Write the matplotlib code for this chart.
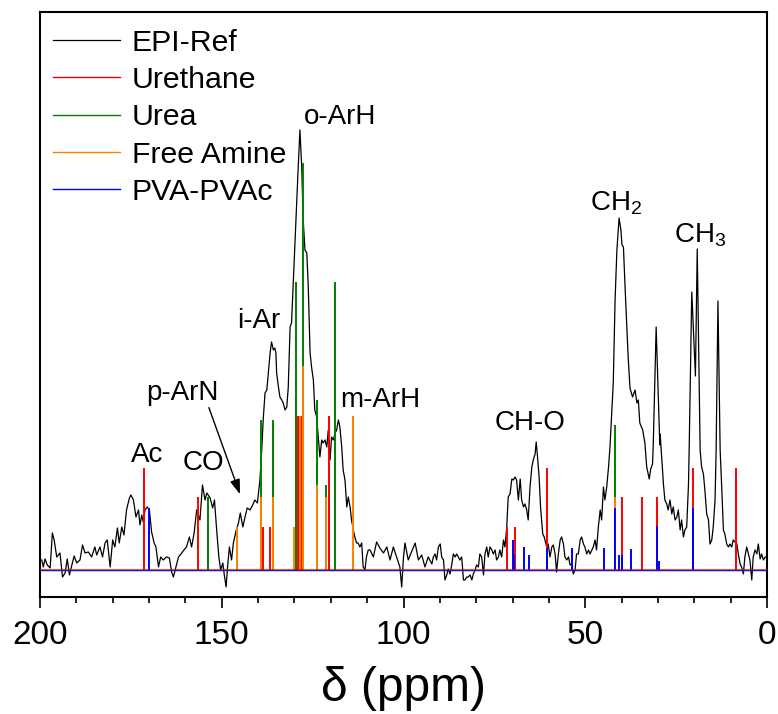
#!/usr/bin/env python3
from pathlib import Path
import matplotlib
matplotlib.use("Agg")
import matplotlib.pyplot as plt

OUTPATH = Path("out.png")

plt.rcParams['font.family'] = ['Liberation Sans', 'DejaVu Sans']
plt.rcParams['mathtext.default'] = 'regular'

# EPI-Ref spectrum (ppm, arbitrary intensity)
ref_ppm = [
    199.5, 199.1, 198.6, 198.0, 197.2, 196.6, 196.1, 195.4, 194.5, 193.8, 193.1, 192.5, 191.9, 191.3,
    190.6, 189.9, 189.0, 188.3, 187.6, 186.7, 185.8, 184.9, 184.4, 183.5, 182.8, 182.1, 181.5, 180.7,
    180.0, 179.4, 178.7, 178.2, 177.5, 176.9, 176.2, 175.4, 175.0, 174.3, 173.6, 172.9, 172.5, 172.0,
    171.6, 171.1, 170.5, 169.9, 169.3, 168.6, 168.1, 167.4, 166.8, 166.1, 165.2, 164.4, 163.8, 163.3,
    162.6, 161.9, 161.0, 160.4, 159.7, 158.9, 158.3, 157.6, 156.9, 156.0, 155.3, 154.6, 154.1, 153.2,
    152.5, 152.0, 151.4, 150.8, 150.3, 149.7, 149.3, 148.8, 148.4, 147.9, 147.3, 146.8, 146.0, 145.4,
    144.9, 144.2, 143.6, 143.0, 142.2, 141.5, 140.9, 140.2, 139.5,
    139.0, 138.6, 138.1, 137.6, 137.2, 136.7, 136.3, 135.8, 135.4, 135.1, 134.9, 134.4, 134.0, 133.5,
    133.1, 132.6, 132.1, 131.7, 131.2, 130.8, 130.3, 129.9, 129.4, 129.0, 128.5, 128.0, 127.6, 127.1,
    126.6, 126.2, 125.7, 125.3, 124.8, 124.4, 123.9, 123.4, 123.0, 122.5, 122.1, 121.6, 121.1, 120.7,
    120.2, 119.8, 119.3, 118.8, 118.4, 117.9, 117.5, 117.0, 116.6, 116.1, 115.6, 115.2, 114.7, 114.3,
    113.8, 113.4, 112.9, 112.5, 112.0, 111.5, 111.1, 110.6, 110.2, 109.7, 109.2,
    108.3, 107.4, 106.5, 105.5, 104.6, 103.7, 102.8, 101.9, 101.0, 100.5, 100.0, 99.6, 98.7, 97.8,
    96.8, 95.9, 95.0, 94.1, 93.2,
    92.2, 91.8, 91.3, 90.9, 90.4, 89.9, 89.5, 89.0, 88.6, 88.1, 87.7, 87.2, 86.7, 86.3, 85.8, 85.4,
    84.9, 84.5, 84.0, 83.5, 83.1, 82.6, 82.2, 81.7, 81.2, 80.8, 80.3, 79.9, 79.4, 79.0, 78.5, 78.0,
    77.6, 77.1, 76.7, 76.2, 75.7, 75.3, 74.8, 74.4, 73.9, 73.5, 73.0, 72.5, 72.1, 71.6, 71.2, 70.7,
    70.2, 69.8, 69.3, 68.9, 68.4, 67.9, 67.5, 67.0, 66.6, 66.1, 65.7, 65.2, 64.7, 64.3, 63.8, 63.5,
    63.2, 62.7, 62.3, 61.7, 61.3, 60.6, 60.2, 59.7, 59.2, 58.8, 58.3, 57.9, 57.4, 56.9, 56.5, 56.0,
    55.6, 55.1, 54.6, 54.2, 53.7, 53.3, 52.8, 52.4, 51.9, 51.4, 51.0, 50.5, 50.1, 49.6, 49.1, 48.7,
    48.2, 47.8, 47.3, 46.9, 46.4, 45.9, 45.5, 45.0, 44.6, 44.1, 43.6, 43.2,
    42.3, 41.8, 41.3, 40.7, 40.2, 39.9, 39.5, 39.1, 38.6, 38.2, 37.7, 37.0, 36.3, 35.8, 35.4, 35.0,
    34.2, 33.6, 33.1, 32.4, 32.0, 31.5, 31.3, 30.5, 29.5, 29.4, 28.5, 28.1, 27.6, 27.2, 26.7, 26.2,
    25.8, 25.3, 24.8, 24.4, 23.9, 23.5, 23.0, 22.6, 22.1, 21.6, 21.4, 20.7, 19.7, 19.2, 18.4, 18.0,
    17.5, 17.1, 16.6, 16.1, 15.7, 15.2, 14.8, 14.3, 14.0, 13.5, 12.9, 12.5, 12.0, 11.6, 11.1, 10.6,
    10.2, 9.7, 9.3, 8.8, 8.3, 7.9, 7.4, 7.0, 6.5, 6.1, 5.6, 5.1, 4.7, 4.2, 3.8, 3.3, 2.8, 2.4, 1.9,
    1.5, 1.0, 0.5, 0.1,
]
ref_int = [
    10, 3, 11, 5, 2, 37, 30, 13, 17, -7, -3, 11, -5, 4,
    14, 7, 10, 25, 17, 18, 13, 23, 15, 23, 13, 27, 30, 3,
    30, 23, 42, 27, 43, 35, 60, 72, 75, 70, 53, 60, 45, 55,
    48, 60, 63, 60, 38, 27, 23, 3, 13, 10, 13, 12, -2, -7,
    3, 13, 17, 20, 23, 33, 23, 37, 60, 50, 85, 70, 77, 72,
    62, 70, 40, 13, 0, 7, -5, -17, 3, 23, 10, 27, 40, 47,
    57, 43, 53, 62, 60, 65, 70, 67, 90,
    120, 150, 177, 180, 197, 217, 228, 220, 222, 217, 197, 183, 173, 170,
    167, 160, 163, 183, 243, 247, 290, 323, 367, 400, 440, 403, 350, 320,
    317, 283, 217, 203, 190, 160, 153, 130, 113, 130, 127, 130, 123, 140,
    110, 133, 130, 137, 140, 150, 143, 123, 100, 90, 63, 73, 63, 50,
    40, 33, 27, 27, 23, 27, 3, 0, 13, 20, 20,
    13, 28, 22, 17, 23, 10, 23, 13, 3, -17, 13, 27, 10, 18,
    27, 10, 15, 3, 13,
    6, 13, 16, 10, 23, 26, 13, 10, -10, -5, 1, -4, 6, 16, 13, 16,
    13, 10, 13, -10, -10, -7, -7, -5, -10, -4, 0, 5, 3, 16, 13, -5,
    16, 23, 13, 23, 20, 16, 20, 10, 13, 20, 13, 30, 23, 43, 73, 76,
    91, 90, 93, 90, 70, 91, 70, 63, 66, 60, 50, 83, 103, 110, 116, 128,
    116, 93, 63, 36, 33, 23, 26, 13, 23, 25, 16, -2, 16, 30, 33, 26,
    13, 10, 13, 5, 6, -4, 0, 16, 16, 30, 33, 26, 23, 16, 20, 16,
    20, 23, 30, 20, 43, 60, 50, 83, 70, 83, 103, 123,
    187, 270, 320, 352, 340, 325, 323, 287, 247, 213, 182, 173, 180, 167, 170, 147,
    140, 127, 103, 91, 101, 106, 125, 243, 125, 136, 86, 70, 66, 60, 70, 56,
    63, 50, 53, 60, 40, 50, 33, 40, 43, 86, 125, 278, 194, 321, 120, 103,
    96, 80, 56, 50, 26, 30, 43, 70, 120, 269, 120, 86, 40, 36, 26, 23,
    26, 23, 30, 28, 26, 16, 6, 3, -4, 13, 23, 16, 10, -10, 13, 20, 16, 26, 11,
    16, 10, 13, 13,
]

# assignment sticks
urethane_ppm = [171.4, 156.6, 138.7, 136.7, 128.9, 128.3, 120.5, 71.6, 69.3, 60.6, 39.8, 34.4, 30.3, 20.4, 8.5]
urethane_int = [102, 73, 43, 43, 154, 154, 154, 43, 43, 102, 73, 73, 73, 102, 102]

urea_ppm = [153.9, 139.2, 136.0, 129.7, 127.6, 123.9, 121.3, 118.8, 41.9]
urea_int = [73, 150, 150, 288, 407, 170, 85, 288, 145]

amine_ppm = [145.8, 139.2, 136.0, 130.1, 128.6, 127.6, 123.9, 121.3, 114.0, 41.9]
amine_int = [43, 73, 73, 43, 154, 204, 85, 73, 154, 73]

pva_ppm = [170.1, 70.0, 69.6, 66.8, 65.5, 60.6, 53.7, 44.8, 41.9, 40.8, 39.8, 37.4, 30.3, 29.8, 20.4]
pva_int = [62, 30, 15, 23, 15, 22, 22, 22, 62, 15, 15, 21, 44, 9, 62]

# peak labels: text, ppm, intensity
peak_labels = [
    ("Ac", 170.6, 115),
    ("CO", 154.9, 107),
    ("p-ArN", 160.9, 177),
    ("i-Ar", 139.8, 249),
    ("o-ArH", 117.5, 453),
    ("m-ArH", 106.5, 170),
    ("CH-O", 65.2, 147),
    ("CH$_2$", 41.5, 367),
    ("CH$_3$", 18.4, 335),
]


def plot_spectrum(output_path: Path):
    fig = plt.figure(figsize=(7.78, 7.14), dpi=100)
    ax = fig.add_axes([0.0514, 0.1639, 0.9345, 0.8193])

    ax.plot(ref_ppm, ref_int, color='black', lw=0.9, label='EPI-Ref', zorder=2)

    series = [
        (urethane_ppm, urethane_int, '#ff0000', 'Urethane'),
        (urea_ppm, urea_int, '#008000', 'Urea'),
        (amine_ppm, amine_int, '#ff8000', 'Free Amine'),
        (pva_ppm, pva_int, '#0000ff', 'PVA-PVAc'),
    ]
    for i, (xs, ys, col, name) in enumerate(series):
        ax.vlines(xs, 0, ys, colors=col, lw=1.4, zorder=3 + i)
        ax.plot([], [], color=col, lw=1.0, label=name)
    # shared zero line of the stick spectra
    ax.axhline(0, color='#ff0000', lw=1.6, alpha=0.6, zorder=7)
    ax.axhline(0, color='#1a1ab0', lw=1.0, zorder=8)

    for txt, x, y in peak_labels:
        ax.text(x, y, txt, fontsize=20, ha='center', va='center')

    ax.annotate('', xy=(144.7, 73), xytext=(153.8, 165),
                arrowprops=dict(arrowstyle='-|>,head_length=0.9,head_width=0.3',
                                color='black', lw=1.0))

    ax.set_xlim(200, 0)
    ax.set_ylim(-27, 558)
    ax.set_xticks([200, 150, 100, 50, 0])
    ax.set_xticks(range(0, 201, 10), minor=True)
    ax.set_yticks([])
    ax.tick_params(axis='x', which='major', direction='out', length=7.7, width=1.2,
                   labelsize=24, pad=9)
    ax.tick_params(axis='x', which='minor', direction='out', length=4.2, width=1.2)
    for sp in ax.spines.values():
        sp.set_linewidth(1.5)
    ax.set_xlabel('δ (ppm)', fontsize=34.5, labelpad=11)

    ax.legend(loc='upper left', frameon=False, fontsize=21.8, handlelength=2.2,
              handletextpad=0.4, labelspacing=0.31, borderaxespad=0.3,
              bbox_to_anchor=(-0.011, 1.008))

    fig.savefig(output_path, dpi=100)
    plt.close(fig)


def main():
    plot_spectrum(OUTPATH)
    print(f"Graph saved to {OUTPATH}")


if __name__ == "__main__":
    main()
